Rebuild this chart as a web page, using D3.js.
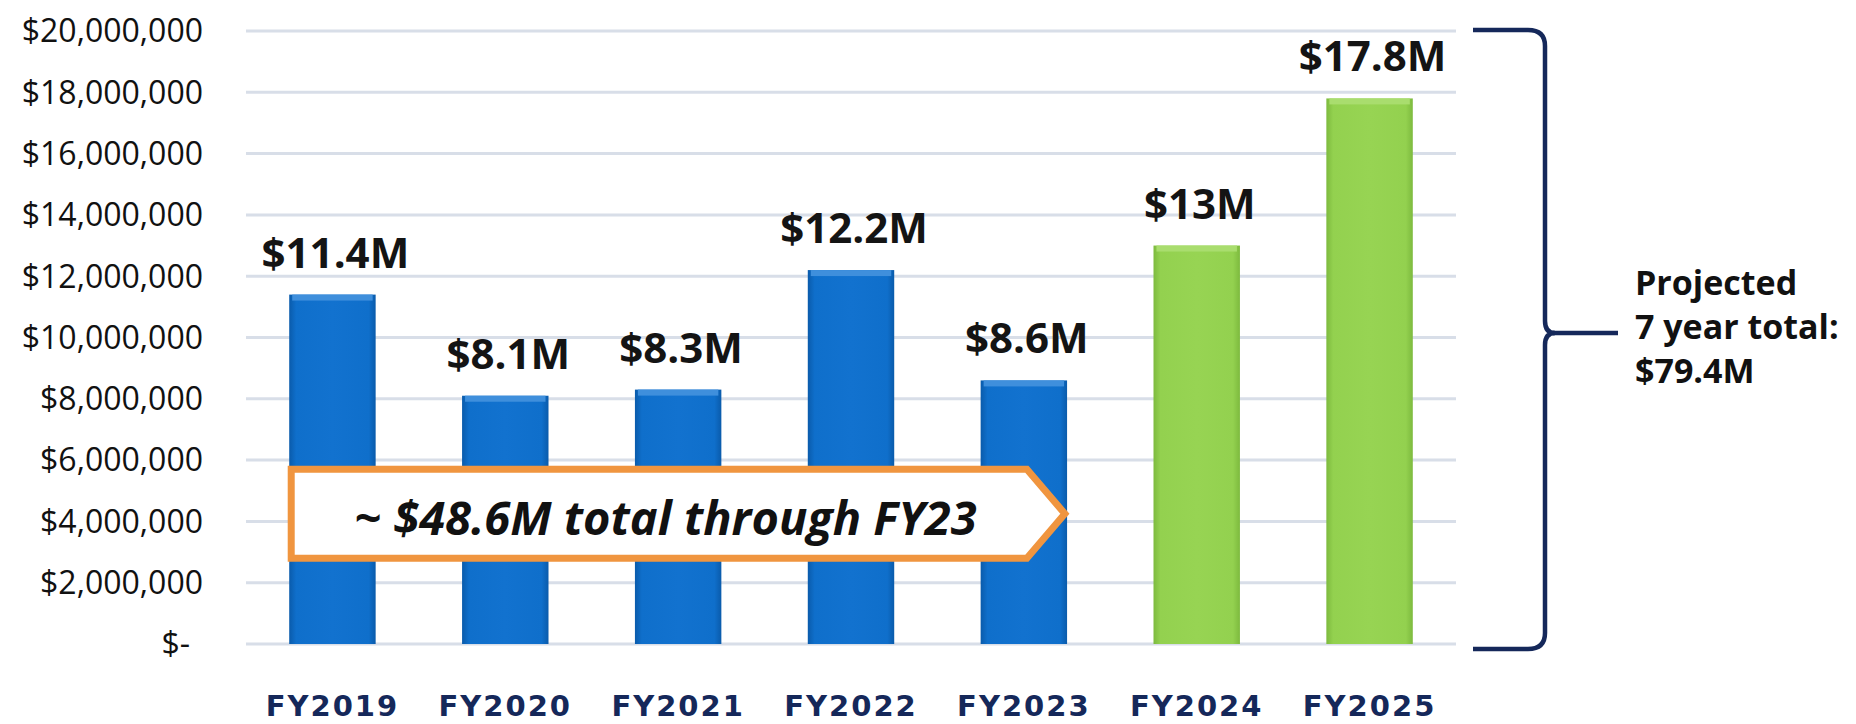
<!DOCTYPE html>
<html>
<head>
<meta charset="utf-8">
<script src="https://cdn.jsdelivr.net/npm/d3@7"></script>
<style>
  html, body { margin: 0; padding: 0; background: #fff; }
  svg { display: block; }
</style>
</head>
<body>
<div id="chart"></div>
<script>
const years = ['FY2019', 'FY2020', 'FY2021', 'FY2022', 'FY2023', 'FY2024', 'FY2025']
const amounts = [11400000, 8100000, 8300000, 12200000, 8600000, 13000000, 17800000]
const valueLabels = ['$11.4M', '$8.1M', '$8.3M', '$12.2M', '$8.6M', '$13M', '$17.8M']
const projected = [false, false, false, false, false, true, true]
const yTicks = [0, 2e6, 4e6, 6e6, 8e6, 10e6, 12e6, 14e6, 16e6, 18e6, 20e6]
const calloutText = '~ $48.6M total through FY23'
const projectedText = ['Projected', '7 year total:', '$79.4M']

const width = 1856
const height = 724
const margin = {top: 31, right: 400, bottom: 80, left: 246}

const svg = d3.select('#chart')
.append('svg')
.attr('width', width)
.attr('height', height)

const x = d3.scaleBand()
.domain(years)
.range([margin.left, width - margin.right])
.paddingInner(0.5)
.paddingOuter(0.25)

const y = d3.scaleLinear()
.domain([0, 20e6])
.range([height - margin.bottom, margin.top])

// bar gradients, darker at the sides like the bevelled office bars
const defs = svg.append('defs')
const grads = [
  {id: 'blueGrad', stops: ['#0a5bab', '#0f6fcb', '#1272cf', '#0f6fcb', '#0a5bab']},
  {id: 'greenGrad', stops: ['#7dba3e', '#93d14f', '#97d453', '#93d14f', '#7dba3e']}
]
grads.forEach(g => {
  const lg = defs.append('linearGradient').attr('id', g.id)
  .attr('x1', 0).attr('x2', 1).attr('y1', 0).attr('y2', 0)
  const offs = [0, 0.08, 0.5, 0.92, 1]
  g.stops.forEach((c, i) => lg.append('stop').attr('offset', offs[i]).attr('stop-color', c))
})

// gridlines
svg.append('g')
.selectAll('line')
.data(yTicks)
.enter()
.append('line')
.attr('x1', margin.left)
.attr('x2', width - margin.right)
.attr('y1', d => y(d))
.attr('y2', d => y(d))
.attr('stroke', '#d8dee8')
.attr('stroke-width', 3)

// y axis labels
const yAxis = svg.append('g')
.attr('transform', `translate(${margin.left - 43},0)`)
.call(d3.axisLeft(y).tickValues(yTicks).tickSize(0).tickPadding(0)
  .tickFormat(d => d === 0 ? '$-' : '$' + d3.format(',')(d)))

yAxis.select('.domain').remove()
yAxis.selectAll('text')
.attr('font-family', '"Open Sans", sans-serif')
.attr('font-size', 32)
.attr('fill', '#111')
.attr('dy', '0.34em')
yAxis.selectAll('.tick').filter(d => d === 0).select('text').attr('x', -13)

// bars
const data = years.map((d, i) => ({year: d, value: amounts[i], label: valueLabels[i], proj: projected[i]}))

const bars = svg.append('g')

bars.selectAll('rect.bar')
.data(data)
.enter()
.append('rect')
.attr('class', 'bar')
.attr('x', d => x(d.year))
.attr('y', d => y(d.value))
.attr('width', x.bandwidth())
.attr('height', d => y(0) - y(d.value))
.attr('fill', d => d.proj ? 'url(#greenGrad)' : 'url(#blueGrad)')

// top bevel highlight
bars.selectAll('rect.bevel')
.data(data)
.enter()
.append('rect')
.attr('class', 'bevel')
.attr('x', d => x(d.year) + 3)
.attr('y', d => y(d.value))
.attr('width', x.bandwidth() - 6)
.attr('height', 6)
.attr('fill', d => d.proj ? '#a9dd6e' : '#3f8fdc')

// value labels
svg.append('g')
.selectAll('text')
.data(data)
.enter()
.append('text')
.attr('x', d => x(d.year) + x.bandwidth() / 2 + 3)
.attr('y', d => y(d.value) - 27)
.attr('text-anchor', 'middle')
.attr('font-family', '"Open Sans", sans-serif')
.attr('font-weight', 700)
.attr('font-size', 42)
.attr('fill', '#141414')
.text(d => d.label)

// x axis labels
svg.append('g')
.selectAll('text')
.data(years)
.enter()
.append('text')
.attr('x', d => x(d) + x.bandwidth() / 2)
.attr('y', 716)
.attr('text-anchor', 'middle')
.attr('font-family', '"DejaVu Sans", sans-serif')
.attr('font-weight', 700)
.attr('font-size', 29)
.attr('letter-spacing', 2)
.attr('fill', '#15285a')
.text(d => d)

// callout arrow over the actual years
const boxLeft = x('FY2019') + 2
const boxRight = x('FY2023') + x.bandwidth() / 2 + 3
const boxTop = y(5.7e6)
const boxBottom = y(2.8e6)
const boxMid = (boxTop + boxBottom) / 2

svg.append('path')
.attr('d', `M${boxLeft},${boxTop} L${boxRight},${boxTop} L${boxRight + 38},${boxMid} L${boxRight},${boxBottom} L${boxLeft},${boxBottom} Z`)
.attr('fill', '#fff')
.attr('stroke', '#f0953f')
.attr('stroke-width', 7)
.attr('stroke-linejoin', 'miter')

svg.append('text')
.attr('x', boxLeft + 63)
.attr('y', boxMid + 21)
.attr('font-family', '"Open Sans", sans-serif')
.attr('font-weight', 700)
.attr('font-style', 'italic')
.attr('font-size', 47)
.attr('fill', '#111')
.text(calloutText)

// brace spanning the whole axis
const bx = 1545
const bTop = y(20e6) - 1
const bBot = y(0) + 5
const bMid = 333

svg.append('path')
.attr('d', `M1473,${bTop} L1528,${bTop} Q${bx},${bTop} ${bx},${bTop + 16} L${bx},${bMid - 12} Q${bx},${bMid} ${bx + 10},${bMid}
  Q${bx},${bMid} ${bx},${bMid + 12} L${bx},${bBot - 16} Q${bx},${bBot} 1528,${bBot} L1473,${bBot}`)
.attr('fill', 'none')
.attr('stroke', '#15285a')
.attr('stroke-width', 4.5)

svg.append('line')
.attr('x1', bx + 8)
.attr('x2', 1618)
.attr('y1', bMid)
.attr('y2', bMid)
.attr('stroke', '#15285a')
.attr('stroke-width', 4.5)

svg.append('g')
.selectAll('text')
.data(projectedText)
.enter()
.append('text')
.attr('x', 1635)
.attr('y', (d, i) => 295 + i * 44)
.attr('font-family', '"Open Sans", sans-serif')
.attr('font-weight', 700)
.attr('font-size', 34)
.attr('fill', '#111')
.text(d => d)
</script>
</body>
</html>
